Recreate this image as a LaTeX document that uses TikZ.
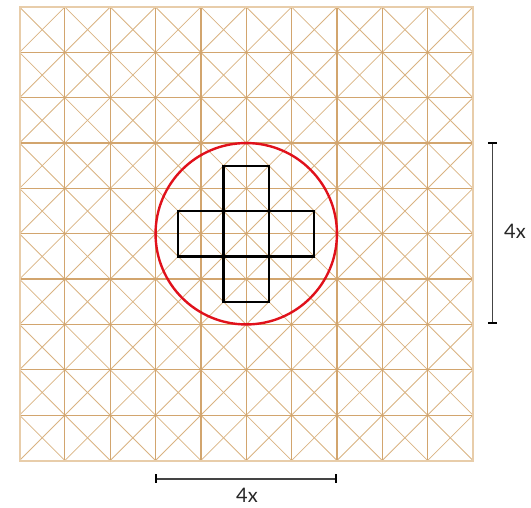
\documentclass[tikz,border=0pt]{standalone}
\usepackage{fontspec}
\setmainfont{Lato}
\usetikzlibrary{calc}
\definecolor{gridtan}{HTML}{D2A56E}
\definecolor{diagtan}{HTML}{D9B382}
\definecolor{bordertan}{HTML}{E8CDAA}
\definecolor{circred}{HTML}{E0111B}
\definecolor{bargray}{HTML}{444444}
\tikzset{
  gridline/.style={draw=gridtan, line width=1.2pt},
  diagline/.style={draw=diagtan, line width=0.8pt},
  borderline/.style={draw=bordertan, line width=2pt},
  crossbox/.style={draw=black, line width=2.4pt},
  ringline/.style={draw=circred, line width=2.4pt},
  barline/.style={draw=bargray, line width=1.6pt},
  barcap/.style={draw=black, line width=2pt},
  barlabel/.style={font=\fontsize{20}{24}\selectfont, text=black!85, inner sep=0pt},
}
\begin{document}
\begin{tikzpicture}[x=1pt,y=-1pt]
\useasboundingbox (0,0) rectangle (531,508);
\pgfmathsetmacro{\c}{45.35}
\pgfmathsetmacro{\xo}{19.5}
\pgfmathsetmacro{\yo}{7}
% diagonals
\foreach \i in {0,...,9}{
  \foreach \j in {0,...,9}{
    \draw[diagline] ({\xo+\i*\c},{\yo+\j*\c}) -- ({\xo+(\i+1)*\c},{\yo+(\j+1)*\c});
    \draw[diagline] ({\xo+(\i+1)*\c},{\yo+\j*\c}) -- ({\xo+\i*\c},{\yo+(\j+1)*\c});
  }
}
% grid lines
\foreach \k in {1,...,9}{
  \draw[gridline] ({\xo+\k*\c},\yo) -- ({\xo+\k*\c},{\yo+10*\c});
  \draw[gridline] (\xo,{\yo+\k*\c}) -- ({\xo+10*\c},{\yo+\k*\c});
}
\draw[borderline] (\xo,\yo) rectangle ({\xo+10*\c},{\yo+10*\c});
% center
\coordinate (ctr) at ({\xo+5*\c},{\yo+5*\c});
% red circle
\draw[ringline] (ctr) circle ({2*\c});
% cross of squares
\foreach \dx/\dy in {0/0,1/0,-1/0,0/1,0/-1}{
  \draw[crossbox] ($(ctr)+({(\dx-0.5)*\c},{(\dy-0.5)*\c})$) rectangle ($(ctr)+({(\dx+0.5)*\c},{(\dy+0.5)*\c})$);
}
% bottom scale bar
\coordinate (hb1) at (155.7,478.7);
\coordinate (hb2) at (336,478.7);
\draw[barline] (hb1) -- (hb2);
\draw[barcap] ($(hb1)+(0,-4.5)$) -- ($(hb1)+(0,4.5)$);
\draw[barcap] ($(hb2)+(0,-4.5)$) -- ($(hb2)+(0,4.5)$);
\node[barlabel] (hlab) at (247,495) {4x};
% right scale bar
\coordinate (vb1) at (492.3,143.3);
\coordinate (vb2) at (492.3,322.7);
\draw[barline] (vb1) -- (vb2);
\draw[barcap] ($(vb1)+(-4.5,0)$) -- ($(vb1)+(4.5,0)$);
\draw[barcap] ($(vb2)+(-4.5,0)$) -- ($(vb2)+(4.5,0)$);
\node[barlabel] (vlab) at (515,231.5) {4x};
\end{tikzpicture}
\end{document}
